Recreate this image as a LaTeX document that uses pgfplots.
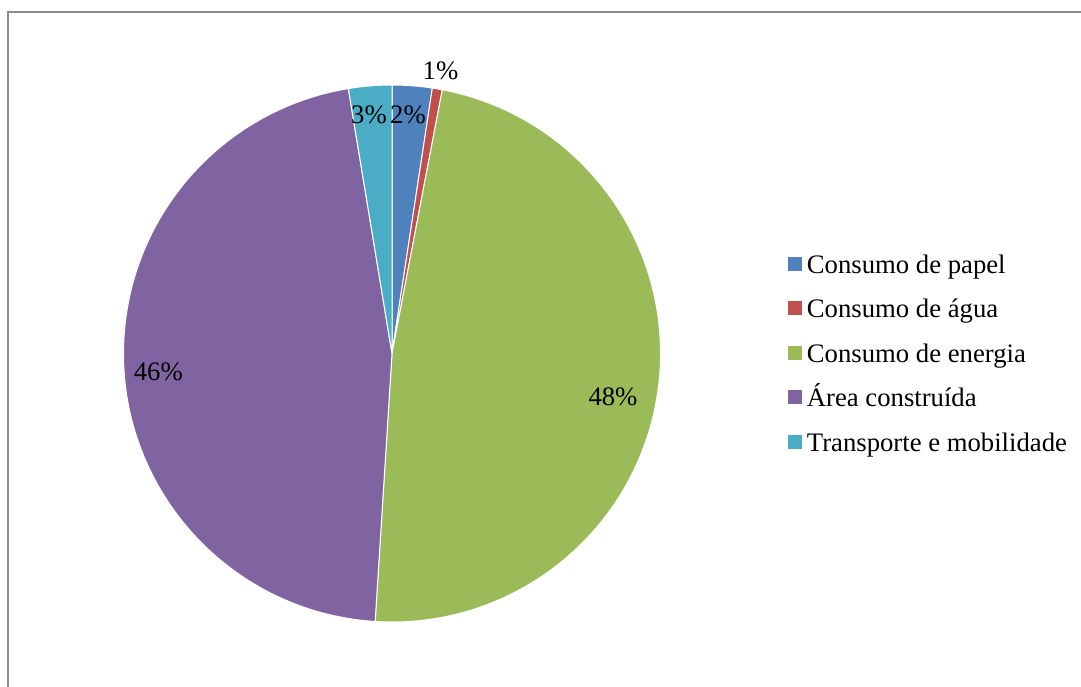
\documentclass[border=0pt]{standalone}
\usepackage{pgfplots}
\pgfplotsset{compat=1.18}
\usepackage{pgfplotstable}
\usepackage{fontspec}
\setmainfont{Liberation Serif}

\definecolor{cPapel}{HTML}{4F81BD}
\definecolor{cAgua}{HTML}{C0504D}
\definecolor{cEnergia}{HTML}{9BBB59}
\definecolor{cArea}{HTML}{8064A2}
\definecolor{cTransp}{HTML}{4BACC6}
\definecolor{frameGray}{HTML}{8C8C8C}

% share of each category, in percent
\pgfplotstableread{
value
2.4
0.6
48.0
46.4
2.6
}\piedata

\newcommand\getv[2]{\pgfplotstablegetelem{#1}{value}\of\piedata\let#2\pgfplotsretval}
\newcommand\pieslice[3]{%
  \fill[#3, draw=white, line width=0.5pt, line join=round]
    (axis cs:392,332.5) -- +(#1:134.25pt)
    arc[start angle=#1, end angle=#2, radius=134.25pt] -- cycle;}

\begin{document}
\getv{0}{\vA}\getv{1}{\vB}\getv{2}{\vC}\getv{3}{\vD}\getv{4}{\vE}%
\pgfmathsetmacro\aO{90}%
\pgfmathsetmacro\aA{\aO-3.6*\vA}%
\pgfmathsetmacro\aB{\aA-3.6*\vB}%
\pgfmathsetmacro\aC{\aB-3.6*\vC}%
\pgfmathsetmacro\aD{\aC-3.6*\vD}%
\pgfmathsetmacro\aE{\aD-3.6*\vE}%
\begin{tikzpicture}
\useasboundingbox (0,0) rectangle (540.5pt,343pt);
\begin{axis}[
  at={(0,0)}, anchor=south west,
  scale only axis, width=540.5pt, height=343pt,
  xmin=0, xmax=1081, ymin=0, ymax=686,
  hide axis, clip=false,
  legend image code/.code={\fill[#1] (0pt,-1.7pt) rectangle (6.6pt,4.75pt);},
  legend cell align=left,
  legend style={
    at={(axis cs:787.5,432)}, anchor=north west,
    draw=none, fill=none, inner sep=0pt,
    font=\fontsize{13.35}{15}\selectfont,
    row sep=9.7pt,
    nodes={inner sep=0pt, text height=9.5pt, text depth=3pt},
    /tikz/every odd column/.append style={column sep=2.5pt},
  },
]
\draw[frameGray, line width=1pt] (axis cs:8,-5) -- (axis cs:8,674) -- (axis cs:1090,674);
\pieslice{\aO}{\aA}{cPapel}
\pieslice{\aA}{\aB}{cAgua}
\pieslice{\aB}{\aC}{cEnergia}
\pieslice{\aC}{\aD}{cArea}
\pieslice{\aD}{\aE}{cTransp}
\begin{scope}[every node/.style={font=\fontsize{13.35}{15}\selectfont, anchor=base, inner sep=0pt}]
\node at (axis cs:408,562.7) {2\%};
\node at (axis cs:440.5,606.7) {1\%};
\node at (axis cs:613,280) {48\%};
\node at (axis cs:158.3,305) {46\%};
\node at (axis cs:369,562.7) {3\%};
\end{scope}
\addlegendimage{cPapel}\addlegendentry{Consumo de papel}
\addlegendimage{cAgua}\addlegendentry{Consumo de água}
\addlegendimage{cEnergia}\addlegendentry{Consumo de energia}
\addlegendimage{cArea}\addlegendentry{Área construída}
\addlegendimage{cTransp}\addlegendentry{Transporte e mobilidade}
\end{axis}
\end{tikzpicture}
\end{document}
